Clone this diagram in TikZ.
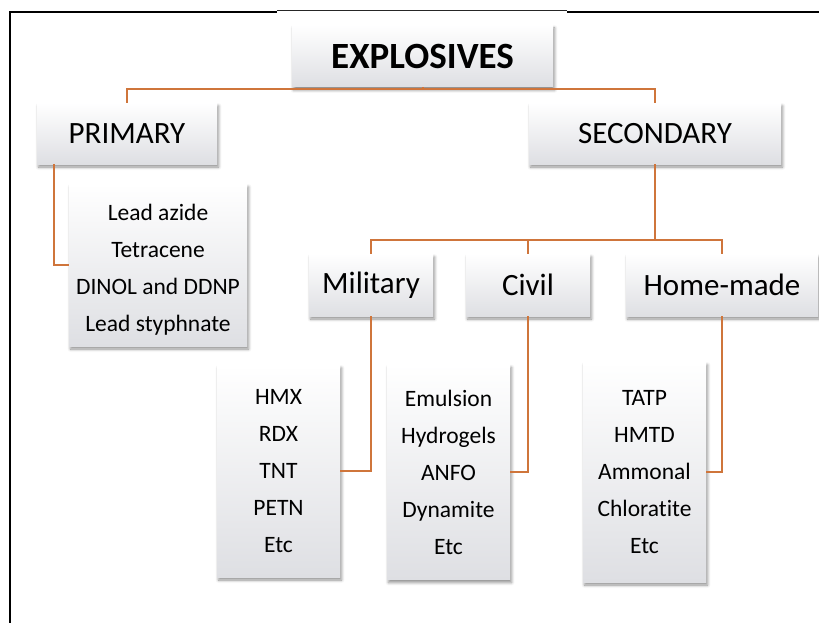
\documentclass[tikz,border=0pt]{standalone}
\usepackage{fontspec}
\setmainfont{Carlito}[Ligatures={NoCommon}]
\usetikzlibrary{shadows.blur}
\definecolor{conn}{RGB}{207,117,59}
\definecolor{boxgrey}{RGB}{222,223,227}
\tikzset{
  box/.style={rectangle, inner sep=0pt, top color=white, middle color=white, bottom color=boxgrey,
    blur shadow={shadow xshift=1.5pt, shadow yshift=-3pt, shadow blur radius=3pt, shadow opacity=45, shadow blur steps=6}},
  head/.style={box, font=\fontsize{31}{36}\selectfont},
  listbox/.style={box, align=center, font=\fontsize{23.5}{37}\selectfont},
  wire/.style={draw=conn, line width=2pt},
  frame/.style={line width=2pt, black}
}
\begin{document}
\begin{tikzpicture}[x=1pt,y=-1pt]
\useasboundingbox (0,0) rectangle (819,623);
% frame
\draw[frame] (10,623) -- (10,12) -- (277,12);
\draw[line width=0.8pt, black!85] (277,10.5) -- (567,10.5);
\draw[frame] (567,12) -- (819,12);

% nodes
\node[box, minimum width=261pt, minimum height=62pt, font=\fontsize{37}{42}\selectfont\bfseries] (expl) at (422.5,56) {EXPLOSIVES};
\node[head, minimum width=180pt, minimum height=61pt] (prim) at (127,133.5) {PRIMARY};
\node[head, minimum width=252pt, minimum height=61pt] (sec) at (655,133.5) {SECONDARY};
\node[listbox, minimum width=178pt, minimum height=162pt] (plist) at (158,265) {\raisebox{-4pt}[\height][\depth]{\begin{tabular}{@{}c@{}}Lead azide\\Tetracene\\DINOL and DDNP\\Lead styphnate\end{tabular}}};
\node[head, minimum width=124pt, minimum height=62pt] (mil) at (371,285) {Military};
\node[head, minimum width=124pt, minimum height=62pt] (civ) at (528,285) {Civil};
\node[head, minimum width=192pt, minimum height=62pt] (home) at (722,285) {Home-made};
\node[listbox, minimum width=123pt, minimum height=212pt] (mlist) at (278.5,471) {HMX\\RDX\\TNT\\PETN\\Etc};
\node[listbox, minimum width=123pt, minimum height=215pt] (clist) at (448.5,472) {Emulsion\\Hydrogels\\ANFO\\Dynamite\\Etc};
\node[listbox, minimum width=123pt, minimum height=220pt] (hlist) at (644.5,472) {TATP\\HMTD\\Ammonal\\Chloratite\\Etc};

% connectors
\draw[wire] (expl.south) -- ++(0,2) -| (prim.north);
\draw[wire] (expl.south) -- ++(0,2) -| (sec.north);
\draw[wire] (plist.west) -| ([xshift=17pt]prim.south west);
\draw[wire] (mil.north) -- ++(0,-14) -| (sec.south);
\draw[wire] (civ.north) -- ++(0,-14);
\draw[wire] (home.north) -- ++(0,-14) -| (sec.south);
\draw[wire] (mil.south) |- (mlist.east);
\draw[wire] (civ.south) |- (clist.east);
\draw[wire] (home.south) |- (hlist.east);
\end{tikzpicture}
\end{document}
